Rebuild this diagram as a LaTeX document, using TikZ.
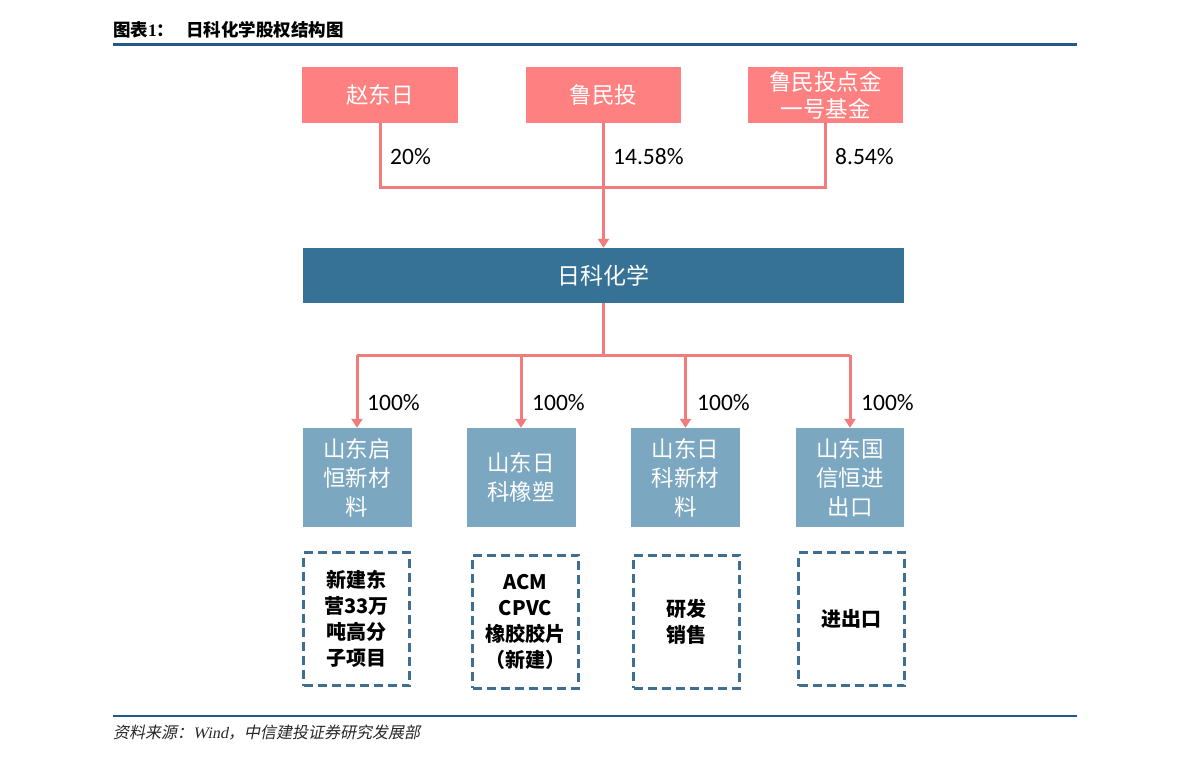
\documentclass[tikz,border=0pt]{standalone}
\usepackage{fontspec}
\setmainfont{Carlito}
\newfontfamily\cjk{Noto Sans CJK SC}
\newfontfamily\cjkit[FakeSlant=0.2]{Noto Sans CJK SC}
\newfontfamily\serifit[FakeSlant=0.2]{Liberation Serif}
\newfontfamily\serifb{Liberation Serif}
\usetikzlibrary{arrows.meta}
\definecolor{pinkbox}{HTML}{FF8080}
\definecolor{conncol}{HTML}{F27B7B}
\definecolor{darkbox}{HTML}{367196}
\definecolor{lightbox}{HTML}{7BA7C0}
\definecolor{dashcol}{HTML}{3E6F92}
\definecolor{rulecol}{HTML}{1F5A8A}
\tikzset{
  topbox/.style={fill=pinkbox, draw=none, minimum width=156pt, minimum height=56pt, inner sep=0pt, text=white, font=\cjk\fontsize{22.5}{27}\selectfont, align=center},
  mainbox/.style={fill=darkbox, draw=none, minimum width=601pt, minimum height=55pt, inner sep=0pt, text=white, font=\cjk\fontsize{23}{28}\selectfont},
  subbox/.style={fill=lightbox, draw=none, minimum width=109pt, minimum height=99pt, inner sep=0pt, text=white, font=\cjk\fontsize{22.5}{29}\selectfont, align=center},
  dbox/.style={draw=dashcol, line width=3pt, dash pattern=on 9pt off 5pt, minimum width=106pt, minimum height=133pt, inner sep=0pt, text=black, font=\cjk\bfseries\fontsize{20}{26}\selectfont, align=center},
  pct/.style={anchor=west, inner sep=0pt, text=black, font=\fontsize{23.5}{26}\selectfont},
  conn/.style={draw=conncol, line width=3pt, line join=miter},
  arr/.style={conn, -{Triangle[width=11pt,length=9pt]}},
}
\begin{document}
\begin{tikzpicture}[x=1pt,y=-1pt]
\useasboundingbox (0,0) rectangle (1191,762);
% header
\node[anchor=west, inner sep=0pt, font=\bfseries\fontsize{17.5}{20}\selectfont] (title) at (113,30) {{\cjk\bfseries 图表}{\serifb\bfseries 1}{\cjk\bfseries ：}\hspace{12pt}{\cjk\bfseries 日科化学股权结构图}};
\draw[rulecol, line width=3pt] (113,45) -- (1077,45);
% top boxes
\node[topbox] (z) at (380,95) {赵东日};
\node[topbox, minimum width=155pt] (l) at (603.5,95) {鲁民投};
\node[topbox, minimum width=155pt] (f) at (825.5,95) {鲁民投点金\\一号基金};
\coordinate (j1) at (603.5,188);
\draw[conn] (z.south) |- (j1) -| (f.south);
\node[mainbox] (r) at (603.5,275.5) {日科化学};
\draw[arr] (l.south) -- (r.north);
\node[pct] (p1) at (390,157) {20\%};
\node[pct] (p2) at (613,157) {14.58\%};
\node[pct] (p3) at (835,157) {8.54\%};
% subsidiaries
\node[subbox] (c1) at (357,477.5) {山东启\\恒新材\\料};
\node[subbox] (c2) at (521,477.5) {山东日\\科橡塑};
\node[subbox] (c3) at (685.5,477.5) {山东日\\科新材\\料};
\node[subbox, minimum width=108pt] (c4) at (850,477.5) {山东国\\信恒进\\出口};
\coordinate (j2) at (603.5,355);
\draw[conn] (r.south) -- (j2);
\draw[conn] (c1.north |- j2) -- (c4.north |- j2);
\draw[arr] (c1.north |- j2) -- (c1.north);
\draw[arr] (c2.north |- j2) -- (c2.north);
\draw[arr] (c3.north |- j2) -- (c3.north);
\draw[arr] (c4.north |- j2) -- (c4.north);
\node[pct] (q1) at (367,403) {100\%};
\node[pct] (q2) at (532,403) {100\%};
\node[pct] (q3) at (697,403) {100\%};
\node[pct] (q4) at (861,403) {100\%};
% project boxes
\node[dbox] (d1) at (356.5,619) {新建东\\营33万\\吨高分\\子项目};
\node[dbox] (d2) at (525.5,621.5) {ACM\\CPVC\\橡胶胶片\\（新建）};
\node[dbox] (d3) at (686.5,621.5) {研发\\销售};
\node[dbox] (d4) at (851.5,619) {进出口};
% footer
\draw[rulecol, line width=2pt] (113,716) -- (1077,716);
\node[anchor=west, inner sep=0pt, text=black!85, font=\fontsize{16}{18}\selectfont] (src) at (113,733) {{\cjkit 资料来源：}{\serifit Wind}{\cjkit ，中信建投证券研究发展部}};
\end{tikzpicture}
\end{document}
